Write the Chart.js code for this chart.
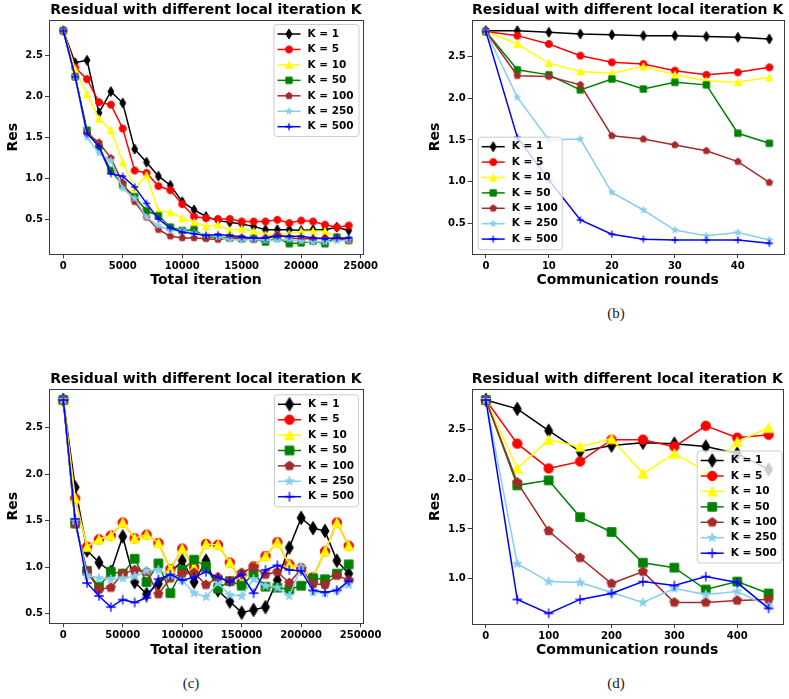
<!DOCTYPE html>
<html>
<head>
<meta charset="utf-8">
<script src="https://cdn.jsdelivr.net/npm/chart.js@4.4.1/dist/chart.umd.min.js"></script>
<style>
  body { margin: 0; background: #fff; width: 789px; height: 699px; position: relative; overflow: hidden; }
  canvas { position: absolute; }
  .cap { position: absolute; font-family: "Liberation Serif", serif; font-size: 15px; color: #222; transform: translate(-50%, -50%); }
</style>
</head>
<body>
<canvas id="chartA" width="395" height="290" style="left:0;top:0"></canvas>
<canvas id="chartB" width="394" height="290" style="left:395px;top:0"></canvas>
<canvas id="chartC" width="395" height="300" style="left:0;top:360px"></canvas>
<canvas id="chartD" width="394" height="300" style="left:395px;top:360px"></canvas>
<div class="cap" style="left:616px;top:313px">(b)</div>
<div class="cap" style="left:191px;top:683px">(c)</div>
<div class="cap" style="left:616px;top:683px">(d)</div>

<script>
// residual curves for each local iteration count K

const chartTitle = "Residual with different local iteration K";
const seriesLabels = ["K = 1", "K = 5", "K = 10", "K = 50", "K = 100", "K = 250", "K = 500"];
const seriesColors = ["#000000", "#ff0000", "#ffff00", "#008000", "#a52a2a", "#87ceeb", "#0000ff"];
const seriesMarkers = ["thin_diamond", "circle", "triangle", "square", "pentagon", "star", "plus"];

const resTicks = [0.5, 1.0, 1.5, 2.0, 2.5];

// top left: total iteration
const iterA = [0, 1000, 2000, 3000, 4000, 5000, 6000, 7000, 8000, 9000, 10000, 11000, 12000,
  13000, 14000, 15000, 16000, 17000, 18000, 19000, 20000, 21000, 22000, 23000, 24000];
const iterTicksA = [0, 5000, 10000, 15000, 20000, 25000];
const resA_k1 = [2.80, 2.41, 2.44, 1.80, 2.06, 1.92, 1.36, 1.20, 1.03, 0.92, 0.72, 0.62, 0.54, 0.49, 0.47, 0.45, 0.42, 0.38, 0.38, 0.38, 0.37, 0.38, 0.38, 0.41, 0.37];
const resA_k5 = [2.80, 2.35, 2.21, 1.93, 1.90, 1.61, 1.10, 1.07, 0.91, 0.86, 0.69, 0.54, 0.52, 0.51, 0.51, 0.48, 0.48, 0.48, 0.50, 0.46, 0.49, 0.48, 0.44, 0.41, 0.43];
const resA_k10 = [2.80, 2.33, 2.03, 1.73, 1.59, 1.20, 0.88, 1.04, 0.61, 0.59, 0.52, 0.47, 0.42, 0.44, 0.37, 0.39, 0.36, 0.32, 0.32, 0.33, 0.36, 0.36, 0.36, 0.29, 0.27];
const resA_k50 = [2.80, 2.24, 1.59, 1.39, 1.10, 0.92, 0.78, 0.61, 0.55, 0.41, 0.37, 0.38, 0.29, 0.29, 0.28, 0.27, 0.27, 0.23, 0.28, 0.21, 0.22, 0.24, 0.21, 0.29, 0.25];
const resA_k100 = [2.80, 2.24, 1.55, 1.44, 1.25, 0.95, 0.72, 0.53, 0.38, 0.30, 0.28, 0.28, 0.27, 0.26, 0.28, 0.28, 0.26, 0.28, 0.32, 0.28, 0.27, 0.27, 0.28, 0.27, 0.25];
const resA_k250 = [2.80, 2.24, 1.50, 1.31, 1.22, 0.88, 0.76, 0.53, 0.43, 0.37, 0.37, 0.34, 0.32, 0.29, 0.26, 0.25, 0.26, 0.25, 0.25, 0.26, 0.24, 0.23, 0.23, 0.24, 0.25];
const resA_k500 = [2.80, 2.24, 1.55, 1.39, 1.06, 1.03, 0.90, 0.70, 0.51, 0.40, 0.35, 0.33, 0.31, 0.32, 0.31, 0.29, 0.28, 0.28, 0.30, 0.30, 0.30, 0.28, 0.27, 0.28, 0.28];

// (b): communication rounds
const roundsB = [0, 5, 10, 15, 20, 25, 30, 35, 40, 45];
const roundTicksB = [0, 10, 20, 30, 40];
const resB_k1 = [2.81, 2.81, 2.79, 2.77, 2.76, 2.75, 2.75, 2.74, 2.73, 2.71];
const resB_k5 = [2.80, 2.75, 2.65, 2.51, 2.43, 2.41, 2.33, 2.28, 2.31, 2.37];
const resB_k10 = [2.80, 2.65, 2.42, 2.32, 2.30, 2.38, 2.28, 2.21, 2.19, 2.25];
const resB_k50 = [2.80, 2.34, 2.28, 2.10, 2.23, 2.11, 2.19, 2.16, 1.58, 1.46];
const resB_k100 = [2.80, 2.27, 2.26, 2.16, 1.55, 1.51, 1.44, 1.37, 1.24, 0.99];
const resB_k250 = [2.80, 2.01, 1.50, 1.51, 0.87, 0.66, 0.42, 0.35, 0.39, 0.30];
const resB_k500 = [2.80, 1.53, 1.02, 0.54, 0.37, 0.31, 0.30, 0.30, 0.30, 0.26];

// (c): total iteration, second run
const iterC = [0, 10000, 20000, 30000, 40000, 50000, 60000, 70000, 80000, 90000, 100000, 110000, 120000,
  130000, 140000, 150000, 160000, 170000, 180000, 190000, 200000, 210000, 220000, 230000, 240000];
const iterTicksC = [0, 50000, 100000, 150000, 200000, 250000];
const resC_k1 = [2.80, 1.86, 1.18, 1.05, 0.95, 1.33, 0.84, 0.71, 0.82, 0.94, 1.07, 0.84, 1.07, 0.75, 0.63, 0.51, 0.54, 0.57, 0.86, 1.21, 1.53, 1.42, 1.39, 1.07, 0.93];
const resC_k5 = [2.80, 1.74, 1.22, 1.30, 1.34, 1.48, 1.31, 1.35, 1.26, 0.98, 1.20, 1.00, 1.25, 1.24, 1.05, 0.84, 1.01, 1.12, 1.27, 1.03, 0.99, 0.89, 1.17, 1.48, 1.23];
const resC_k10 = [2.80, 1.74, 1.22, 1.30, 1.34, 1.48, 1.31, 1.35, 1.26, 0.98, 1.20, 1.00, 1.25, 1.24, 1.05, 0.84, 1.01, 1.12, 1.27, 1.03, 0.99, 0.89, 1.17, 1.48, 1.23];
const resC_k50 = [2.80, 1.47, 0.96, 0.79, 0.95, 0.93, 1.09, 0.84, 1.04, 0.72, 0.97, 1.08, 1.01, 0.77, 0.85, 0.80, 0.93, 0.79, 0.78, 0.76, 0.80, 0.88, 0.87, 0.93, 1.03];
const resC_k100 = [2.80, 1.47, 0.95, 0.76, 0.78, 0.93, 0.97, 0.95, 0.71, 0.88, 0.93, 0.94, 0.81, 0.89, 0.85, 0.94, 1.00, 0.92, 0.95, 0.83, 0.98, 0.82, 0.81, 0.91, 0.86];
const resC_k250 = [2.80, 1.50, 0.91, 0.88, 0.87, 0.88, 0.90, 0.96, 0.97, 0.91, 0.86, 0.72, 0.68, 0.83, 0.70, 0.69, 0.87, 0.80, 0.78, 0.69, 1.00, 0.73, 0.72, 0.75, 0.81];
const resC_k500 = [2.80, 1.52, 0.83, 0.69, 0.57, 0.65, 0.62, 0.67, 0.87, 0.92, 0.86, 0.89, 0.95, 0.89, 0.84, 0.92, 0.72, 0.97, 1.02, 0.97, 0.96, 0.75, 0.73, 0.75, 0.85];

// (d): communication rounds, second run
const roundsD = [0, 50, 100, 150, 200, 250, 300, 350, 400, 450];
const roundTicksD = [0, 100, 200, 300, 400];
const resD_k1 = [2.80, 2.71, 2.49, 2.28, 2.34, 2.37, 2.36, 2.33, 2.26, 2.10];
const resD_k5 = [2.80, 2.36, 2.11, 2.18, 2.40, 2.40, 2.33, 2.54, 2.42, 2.45];
const resD_k10 = [2.80, 2.11, 2.40, 2.33, 2.41, 2.06, 2.26, 2.08, 2.38, 2.52];
const resD_k50 = [2.80, 1.94, 1.99, 1.62, 1.47, 1.16, 1.11, 0.89, 0.97, 0.85];
const resD_k100 = [2.80, 1.97, 1.48, 1.21, 0.95, 1.07, 0.76, 0.76, 0.78, 0.79];
const resD_k250 = [2.80, 1.15, 0.97, 0.96, 0.86, 0.76, 0.90, 0.84, 0.87, 0.72];
const resD_k500 = [2.80, 0.79, 0.65, 0.79, 0.85, 0.97, 0.93, 1.02, 0.96, 0.70];

const FONT = "DejaVu Sans";
const FRAME_COLOR = "#3c3c3c";

// small offscreen canvas per marker, used as pointStyle
function makeMarker(shape, size, color) {
  const dim = Math.ceil(size * 1.5) + 3;
  const c = document.createElement("canvas");
  c.width = dim;
  c.height = dim;
  const g = c.getContext("2d");
  const m = dim / 2;
  const r = size / 2;
  g.fillStyle = color;
  g.strokeStyle = color;
  g.lineWidth = 1;
  g.lineJoin = "miter";
  g.beginPath();
  if (shape === "circle") {
    g.arc(m, m, r, 0, Math.PI * 2);
  } else if (shape === "square") {
    const h = r * 0.9;
    g.rect(m - h, m - h, 2 * h, 2 * h);
  } else if (shape === "triangle") {
    g.moveTo(m, m - r);
    g.lineTo(m + r, m + r);
    g.lineTo(m - r, m + r);
    g.closePath();
  } else if (shape === "thin_diamond") {
    const h = r * 1.41;
    g.moveTo(m, m - h);
    g.lineTo(m + h * 0.6, m);
    g.lineTo(m, m + h);
    g.lineTo(m - h * 0.6, m);
    g.closePath();
  } else if (shape === "pentagon") {
    for (let k = 0; k < 5; k++) {
      const a = -Math.PI / 2 + (k * 2 * Math.PI) / 5;
      g.lineTo(m + r * Math.cos(a), m + r * Math.sin(a));
    }
    g.closePath();
  } else if (shape === "star") {
    for (let k = 0; k < 10; k++) {
      const a = -Math.PI / 2 + (k * Math.PI) / 5;
      const rr = k % 2 === 0 ? r : r * 0.382;
      g.lineTo(m + rr * Math.cos(a), m + rr * Math.sin(a));
    }
    g.closePath();
  } else if (shape === "plus") {
    g.moveTo(m - r, m);
    g.lineTo(m + r, m);
    g.moveTo(m, m - r);
    g.lineTo(m, m + r);
    g.lineWidth = 1.3;
    g.stroke();
    return c;
  }
  g.fill();
  g.stroke();
  return c;
}

// axes box round the plot area
const frame = {
  id: "frame",
  afterDatasetsDraw(chart) {
    const { ctx, chartArea: a } = chart;
    ctx.save();
    ctx.strokeStyle = FRAME_COLOR;
    ctx.lineWidth = 1;
    const l = Math.round(a.left) + 0.5, t = Math.round(a.top) + 0.5;
    const r = Math.round(a.right) + 0.5, b = Math.round(a.bottom) + 0.5;
    ctx.strokeRect(l, t, r - l, b - t);
    ctx.restore();
  },
};

// boxed legend drawn inside the axes
const legendBox = {
  id: "legendBox",
  afterDraw(chart, args, o) {
    const ctx = chart.ctx;
    ctx.save();
    ctx.fillStyle = "rgba(255,255,255,0.8)";
    ctx.strokeStyle = "#cccccc";
    ctx.lineWidth = 1;
    ctx.beginPath();
    ctx.roundRect(o.left + 0.5, o.top + 0.5, o.width, o.height, 3);
    ctx.fill();
    ctx.stroke();
    ctx.font = "bold 10.5px '" + FONT + "'";
    ctx.textBaseline = "middle";
    chart.data.datasets.forEach((ds, i) => {
      const y = o.top + o.first + i * o.row;
      const x0 = o.left + 4;
      ctx.strokeStyle = ds.borderColor;
      ctx.lineWidth = 1.5;
      ctx.beginPath();
      ctx.moveTo(x0, y);
      ctx.lineTo(x0 + 23, y);
      ctx.stroke();
      const img = ds.pointStyle;
      ctx.drawImage(img, x0 + 11.5 - img.width / 2, y - img.height / 2);
      ctx.fillStyle = "#000";
      ctx.fillText(ds.label, o.left + 34, y);
    });
    ctx.restore();
  },
};

function buildDatasets(xs, series, size) {
  return series.map((ys, i) => ({
    label: seriesLabels[i],
    data: xs.map((x, j) => ({ x: x, y: ys[j] })),
    borderColor: seriesColors[i],
    backgroundColor: seriesColors[i],
    borderWidth: 1.5,
    pointStyle: makeMarker(seriesMarkers[i], size, seriesColors[i]),
    pointRadius: size / 2,
    fill: false,
    tension: 0,
    order: series.length - 1 - i,
  }));
}

function drawPanel(id, xs, xTicks, xTitle, series, cfg) {
  const all = series.flat();
  const lo = Math.min(...all), hi = Math.max(...all);
  const yPad = (hi - lo) * 0.05;
  const xPad = (xs[xs.length - 1] - xs[0]) * 0.05;
  const tickFont = { family: FONT, size: 10, weight: "bold" };
  const labelFont = { family: FONT, size: 14, weight: "bold" };
  const grid = { display: true, drawOnChartArea: false, drawTicks: true, tickLength: 4, color: FRAME_COLOR };
  // only keep ticks that fall inside the axis range
  const inRange = (s, vals) => vals.filter((v) => v >= s.min && v <= s.max).map((v) => ({ value: v }));

  new Chart(document.getElementById(id), {
    type: "line",
    data: { datasets: buildDatasets(xs, series, cfg.marker) },
    options: {
      responsive: false,
      animation: false,
      devicePixelRatio: 1,
      events: [],
      layout: { padding: cfg.padding },
      plugins: {
        legend: { display: false },
        tooltip: { enabled: false },
        title: {
          display: true,
          text: chartTitle,
          fullSize: false,
          color: "#000",
          font: { family: FONT, size: 14, weight: "bold" },
          padding: { top: 1.6, bottom: 1.6 },
        },
        legendBox: cfg.legend,
      },
      scales: {
        x: {
          type: "linear",
          min: xs[0] - xPad,
          max: xs[xs.length - 1] + xPad,
          afterBuildTicks: (s) => { s.ticks = inRange(s, xTicks); },
          afterFit: (s) => { s.height = cfg.xHeight; s.paddingLeft = 0; s.paddingRight = 0; },
          grid: grid,
          border: { display: false },
          ticks: { font: tickFont, color: "#000", padding: 2, maxRotation: 0, autoSkip: false, callback: (v) => String(v) },
          title: { display: true, text: xTitle, color: "#000", font: labelFont, padding: { top: 0, bottom: 1.6 } },
        },
        y: {
          type: "linear",
          min: lo - yPad,
          max: hi + yPad,
          afterBuildTicks: (s) => { s.ticks = inRange(s, resTicks); },
          afterFit: (s) => { s.width = 49; s.paddingTop = 0; s.paddingBottom = 0; },
          grid: grid,
          border: { display: false },
          ticks: { font: tickFont, color: "#000", padding: 2, autoSkip: false, callback: (v) => v.toFixed(1) },
          title: { display: true, text: "Res", color: "#000", font: labelFont, padding: { top: 4.6, bottom: 0 } },
        },
      },
    },
    plugins: [frame, legendBox],
  });
}

drawPanel("chartA", iterA, iterTicksA, "Total iteration",
  [resA_k1, resA_k5, resA_k10, resA_k50, resA_k100, resA_k250, resA_k500], {
    marker: 7,
    padding: { left: 0, top: 0, right: 32, bottom: 0 },
    xHeight: 35.7,
    legend: { left: 273.5, top: 24, width: 85, height: 112, first: 10, row: 15.45 },
  });

drawPanel("chartB", roundsB, roundTicksB, "Communication rounds",
  [resB_k1, resB_k5, resB_k10, resB_k50, resB_k100, resB_k250, resB_k500], {
    marker: 7,
    padding: { left: 27.7, top: 0, right: 3.3, bottom: 0 },
    xHeight: 36,
    legend: { left: 82.7, top: 136.7, width: 84, height: 112.5, first: 10, row: 15.4 },
  });

drawPanel("chartC", iterC, iterTicksC, "Total iteration",
  [resC_k1, resC_k5, resC_k10, resC_k50, resC_k100, resC_k250, resC_k500], {
    marker: 9.5,
    padding: { left: 0, top: 9.3, right: 32, bottom: 0 },
    xHeight: 36.7,
    legend: { left: 274, top: 34.3, width: 84, height: 112, first: 10, row: 15.4 },
  });

drawPanel("chartD", roundsD, roundTicksD, "Communication rounds",
  [resD_k1, resD_k5, resD_k10, resD_k50, resD_k100, resD_k250, resD_k500], {
    marker: 9.5,
    padding: { left: 27.7, top: 9.3, right: 3.3, bottom: 0 },
    xHeight: 36,
    legend: { left: 301.7, top: 90.5, width: 85, height: 112, first: 10, row: 15.45 },
  });
</script>
</body>
</html>
